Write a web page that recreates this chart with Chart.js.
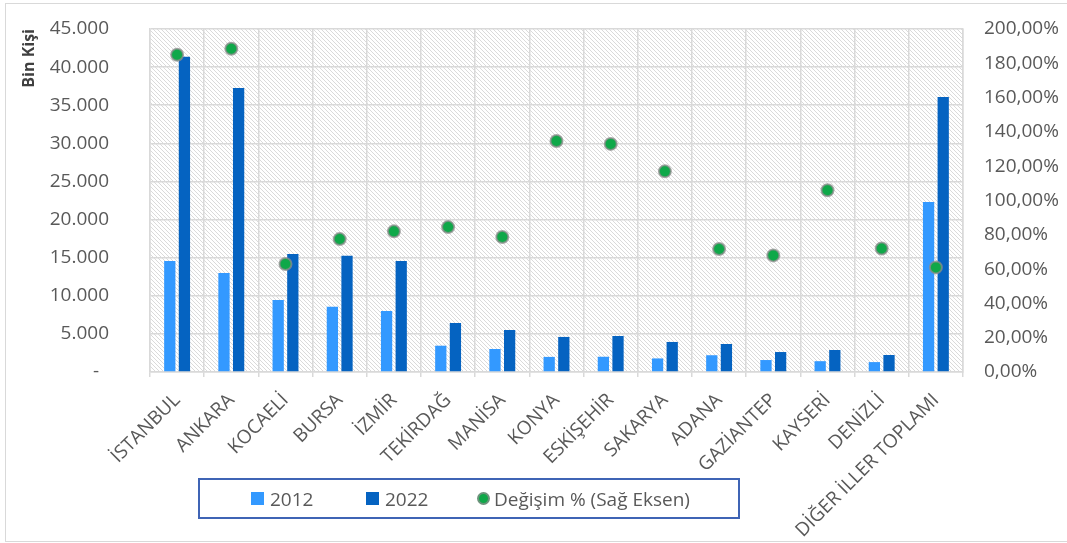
<!DOCTYPE html>
<html>
<head>
<meta charset="utf-8">
<script src="https://cdn.jsdelivr.net/npm/chart.js@4"></script>
<style>
  body { margin: 0; background: #fff; font-family: "Open Sans", sans-serif; }
  #wrap { position: relative; width: 1067px; height: 543px; overflow: hidden; }
  #frame { position: absolute; left: 5px; top: 3px; width: 1080px; height: 537px; border: 1.5px solid #d9d9d9; }
  canvas { position: absolute; left: 0; top: 0; }
  #legend {
    position: absolute; left: 198px; top: 478px; width: 538px; height: 37px;
    border: 2px solid #3f64b5; display: flex; align-items: center;
    font-size: 19px; color: #595959;
  }
  .item { display: flex; align-items: center; position: absolute; }
  .sq { width: 13px; height: 13px; margin-right: 6px; }
  .dot { width: 9px; height: 9px; border-radius: 50%; border: 2px solid rgba(140,140,140,0.75); margin-right: 4px; }
</style>
</head>
<body>
<div id="wrap">
  <div id="frame"></div>
  <canvas id="chart" width="1067" height="543"></canvas>
  <div id="legend"></div>
</div>
<script>
const cities = ['İSTANBUL', 'ANKARA', 'KOCAELİ', 'BURSA', 'İZMİR', 'TEKİRDAĞ', 'MANİSA', 'KONYA',
                'ESKİŞEHİR', 'SAKARYA', 'ADANA', 'GAZİANTEP', 'KAYSERİ', 'DENİZLİ', 'DİĞER İLLER TOPLAMI'];
const values2012 = [14570, 12990, 9450, 8550, 8000, 3450, 3020, 1980, 2000, 1780, 2200, 1570, 1420, 1300, 22310];
const values2022 = [41350, 37270, 15490, 15250, 14570, 6430, 5510, 4600, 4720, 3940, 3670, 2620, 2890, 2230, 36090];
const changePct = [185, 188.5, 63, 77.5, 82, 84.5, 78.7, 134.7, 133, 117, 71.7, 68, 106, 72, 61];
const seriesNames = ['2012', '2022', 'Değişim % (Sağ Eksen)'];

const textColor = '#595959';
const gridColor = '#d9d9d9';
const font = { family: '"Open Sans", sans-serif', size: 19 };

// hatched plot background
function makeHatch() {
    const c = document.createElement('canvas');
    c.width = 4; c.height = 4;
    const g = c.getContext('2d');
    g.fillStyle = '#ffffff';
    g.fillRect(0, 0, 4, 4);
    g.strokeStyle = '#d6d6d6';
    g.lineWidth = 0.9;
    g.beginPath();
    g.moveTo(-1, -1); g.lineTo(5, 5);
    g.moveTo(-1, 3); g.lineTo(1, 5);
    g.moveTo(3, -1); g.lineTo(5, 1);
    g.stroke();
    return c;
}

const hatchPlugin = {
    id: 'hatch',
    beforeDraw(chart) {
        const { ctx, chartArea: a } = chart;
        ctx.save();
        ctx.fillStyle = ctx.createPattern(makeHatch(), 'repeat');
        ctx.fillRect(a.left, a.top, a.right - a.left, a.bottom - a.top);
        ctx.restore();
    }
};

function thousands(v) {
    if (v === 0) return '-  ';
    return String(v).replace(/\B(?=(\d{3})+(?!\d))/g, '.');
}

const chart = new Chart(document.getElementById('chart').getContext('2d'), {
    data: {
        labels: cities,
        datasets: [
            {
                type: 'line',
                label: seriesNames[2],
                data: changePct,
                yAxisID: 'y1',
                showLine: false,
                pointRadius: 6,
                pointBackgroundColor: '#0fa849',
                pointBorderColor: 'rgba(140,140,140,0.75)',
                pointBorderWidth: 2,
                order: 0
            },
            {
                type: 'bar',
                label: seriesNames[0],
                data: values2012,
                backgroundColor: '#3399FF',
                yAxisID: 'y',
                categoryPercentage: 0.54,
                barPercentage: 0.77,
                order: 1
            },
            {
                type: 'bar',
                label: seriesNames[1],
                data: values2022,
                backgroundColor: '#0563C1',
                yAxisID: 'y',
                categoryPercentage: 0.54,
                barPercentage: 0.77,
                order: 1
            }
        ]
    },
    options: {
        responsive: false,
        animation: false,
        layout: { padding: { top: 29, left: 0, right: 0, bottom: 0 } },
        plugins: {
            legend: { display: false },
            tooltip: { enabled: false }
        },
        scales: {
            x: {
                offset: true,
                grid: { color: gridColor, lineWidth: 1.5, offset: true, tickLength: 5, tickColor: gridColor },
                border: { color: gridColor, width: 1.5 },
                ticks: { color: textColor, font: font, minRotation: 45, maxRotation: 45, padding: 12, autoSkip: false },
                afterFit(scale) { scale.height = 171; }
            },
            y: {
                position: 'left',
                min: 0, max: 45000,
                // transparent tick marks give the gap between labels and plot
                grid: { color: gridColor, lineWidth: 1.5, tickLength: 38, tickColor: 'rgba(0,0,0,0)' },
                border: { color: gridColor, width: 1.5 },
                ticks: { stepSize: 5000, color: textColor, font: font, padding: 3, callback: v => thousands(v) },
                title: {
                    display: true, text: 'Bin Kişi', align: 'end', color: '#404040',
                    font: { family: '"Open Sans", sans-serif', size: 16, weight: 'bold' },
                    padding: { top: 20, bottom: 0 }
                },
                afterFit(scale) { scale.width = 150; }
            },
            y1: {
                position: 'right',
                min: 0, max: 200,
                grid: { display: true, drawOnChartArea: false, tickLength: 18, tickColor: 'rgba(0,0,0,0)' },
                border: { color: gridColor, width: 1.5 },
                ticks: { stepSize: 20, color: textColor, font: font, padding: 3,
                         callback: v => v.toFixed(2).replace('.', ',') + '%' },
                afterFit(scale) { scale.width = 104; }
            }
        }
    },
    plugins: [hatchPlugin]
});

// legend box below the chart
const legendEl = document.getElementById('legend');
const legendItems = [
    { name: seriesNames[0], color: '#3399FF', kind: 'sq', x: 51 },
    { name: seriesNames[1], color: '#0563C1', kind: 'sq', x: 166 },
    { name: seriesNames[2], color: '#0fa849', kind: 'dot', x: 277 }
];
legendItems.forEach(it => {
    const d = document.createElement('div');
    d.className = 'item';
    d.style.left = it.x + 'px';
    d.innerHTML = '<span class="' + it.kind + '" style="background:' + it.color + '"></span><span>' + it.name + '</span>';
    legendEl.appendChild(d);
});
</script>
</body>
</html>
